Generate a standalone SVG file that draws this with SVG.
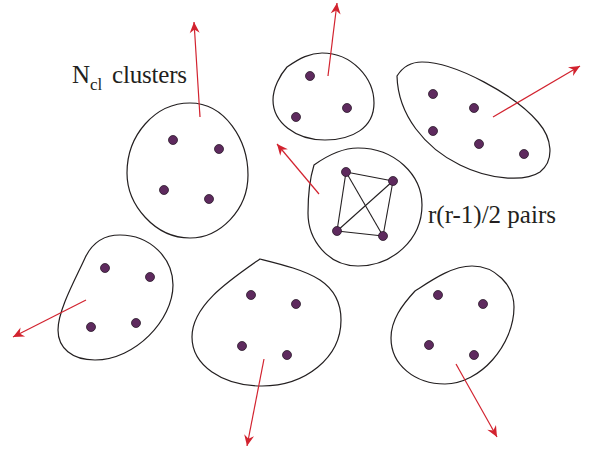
<svg xmlns="http://www.w3.org/2000/svg" width="597" height="457" viewBox="0 0 597 457">
<style>
.outline{fill:none;stroke:#231f20;stroke-width:1.2}
.dot{fill:#5e2a5e;stroke:#2a1a2a;stroke-width:0.8}
.pair{stroke:#231f20;stroke-width:1.1;fill:none}
.arrow{stroke:#d2232f;stroke-width:1.2;fill:none;marker-end:url(#ah)}
.lbl{font-family:"Liberation Serif","Times New Roman",serif;fill:#231f20}
</style>
<defs>
<marker id="ah" markerUnits="userSpaceOnUse" viewBox="-12 -6 13 12" refX="0" refY="0" markerWidth="13" markerHeight="12" orient="auto">
<path d="M0,0 L-11,-5 L-7.5,0 L-11,5 Z" fill="#d2232f"/>
</marker>
</defs>
<rect width="597" height="457" fill="#fff"/>
<g id="cluster1">
<path class="outline" d="M190,103 C225,103 248,140 248,175 C248,210 220,238 190,238 C155,238 127,205 127,173 C127,135 155,103 190,103 Z"/>
<circle class="dot" cx="173" cy="140" r="4.5"/>
<circle class="dot" cx="219" cy="149" r="4.5"/>
<circle class="dot" cx="164" cy="190" r="4.5"/>
<circle class="dot" cx="209" cy="199" r="4.5"/>
</g>
<g id="cluster2">
<path class="outline" d="M287,67 C300,58 310,53 322,53 C352,53 374,78 374,103 C374,128 352,140 325,140 C295,140 273,122 273,100 C273,88 280,75 287,67 Z"/>
<circle class="dot" cx="310" cy="76" r="4.5"/>
<circle class="dot" cx="347" cy="108" r="4.5"/>
<circle class="dot" cx="296" cy="117" r="4.5"/>
</g>
<g id="cluster3">
<path class="outline" d="M397,76 C402,68 410,62 422,62 C455,62 515,95 538,122 C552,138 555,160 540,172 C525,182 490,180 460,165 C425,148 398,115 397,76 Z"/>
<circle class="dot" cx="433" cy="94" r="4.5"/>
<circle class="dot" cx="474" cy="108" r="4.5"/>
<circle class="dot" cx="433" cy="131" r="4.5"/>
<circle class="dot" cx="479" cy="144" r="4.5"/>
<circle class="dot" cx="524" cy="154" r="4.5"/>
</g>
<g id="cluster4">
<path class="outline" d="M314,165 C328,155 342,148 358,148 C395,148 422,175 422,205 C422,240 392,266 358,266 C328,266 308,240 308,213 C308,195 310,178 314,165 Z"/>
<g class="pair">
<line x1="346" y1="172" x2="393" y2="181"/>
<line x1="346" y1="172" x2="337" y2="231"/>
<line x1="346" y1="172" x2="383" y2="236"/>
<line x1="393" y1="181" x2="337" y2="231"/>
<line x1="393" y1="181" x2="383" y2="236"/>
<line x1="337" y1="231" x2="383" y2="236"/>
</g>
<circle class="dot" cx="346" cy="172" r="4.5"/>
<circle class="dot" cx="393" cy="181" r="4.5"/>
<circle class="dot" cx="337" cy="231" r="4.5"/>
<circle class="dot" cx="383" cy="236" r="4.5"/>
</g>
<g id="cluster5">
<path class="outline" d="M85,258 C92,243 104,235 120,235 C150,235 173,258 173,285 C173,320 135,360 95,360 C72,360 58,348 58,330 C58,310 76,278 85,258 Z"/>
<circle class="dot" cx="105" cy="268" r="4.5"/>
<circle class="dot" cx="150" cy="277" r="4.5"/>
<circle class="dot" cx="91" cy="327" r="4.5"/>
<circle class="dot" cx="136" cy="323" r="4.5"/>
</g>
<g id="cluster6">
<path class="outline" d="M260,259 C280,264 305,270 320,280 C335,290 341,305 341,320 C341,358 305,386 262,386 C222,386 192,365 192,337 C192,305 230,280 260,259 Z"/>
<circle class="dot" cx="251" cy="295" r="4.5"/>
<circle class="dot" cx="296" cy="304" r="4.5"/>
<circle class="dot" cx="242" cy="346" r="4.5"/>
<circle class="dot" cx="287" cy="355" r="4.5"/>
</g>
<g id="cluster7">
<path class="outline" d="M415,291 C432,280 452,266 472,266 C495,266 514,285 514,307 C514,345 480,384 445,384 C415,384 391,365 391,338 C391,320 402,305 415,291 Z"/>
<circle class="dot" cx="438" cy="295" r="4.5"/>
<circle class="dot" cx="483" cy="304" r="4.5"/>
<circle class="dot" cx="429" cy="345" r="4.5"/>
<circle class="dot" cx="474" cy="355" r="4.5"/>
</g>
<g id="connectors">
<line class="arrow" x1="200" y1="117" x2="194" y2="22"/>
<line class="arrow" x1="328" y1="76" x2="337" y2="3"/>
<line class="arrow" x1="493" y1="117" x2="580" y2="66"/>
<line class="arrow" x1="319" y1="194" x2="277" y2="144"/>
<line class="arrow" x1="86" y1="300" x2="13" y2="337"/>
<line class="arrow" x1="264" y1="359" x2="247" y2="446"/>
<line class="arrow" x1="456" y1="364" x2="497" y2="437"/>
</g>
<g id="labels">
<text class="lbl" x="72" y="83" font-size="25">N<tspan font-size="17" dy="7">cl</tspan><tspan x="112" dy="-7" textLength="75">clusters</tspan></text>
<text class="lbl" x="428" y="223" font-size="25" textLength="128">r(r-1)/2 pairs</text>
</g>
</svg>
